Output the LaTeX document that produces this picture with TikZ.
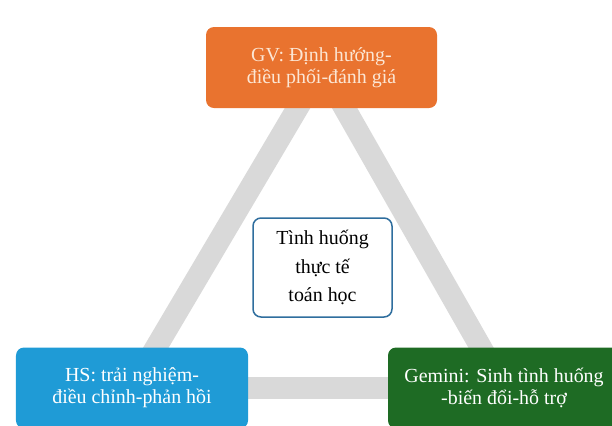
\documentclass[tikz,border=0pt]{standalone}
\usepackage{fontspec}
\setmainfont{Liberation Serif}
\usetikzlibrary{backgrounds}

\definecolor{gvorange}{HTML}{E9732F}
\definecolor{gvtext}{HTML}{FCE6D4}
\definecolor{hsblue}{HTML}{1F9BD6}
\definecolor{gemgreen}{HTML}{1E6B24}
\definecolor{bandgray}{HTML}{D9D9D9}
\definecolor{caseline}{HTML}{2F6E9E}

\tikzset{
  rolebox/.style={rounded corners=8bp, minimum height=81bp, inner sep=0pt,
    align=center, font=\fontsize{20}{22}\selectfont},
  band/.style={bandgray, line width=22bp},
}

\begin{document}
\begin{tikzpicture}[x=1bp,y=-1bp]
\useasboundingbox (0,0) rectangle (612,425);
% the three roles
\node[rolebox,minimum width=231bp,fill=gvorange,text=gvtext] (gv) at (321.5,67.5) {GV: Định hướng-\\điều phối-đánh giá};
\node[rolebox,minimum width=232bp,fill=hsblue,text=white] (hs) at (132,388) {HS: trải nghiệm-\\điều chỉnh-phản hồi};
\node[rolebox,minimum width=232bp,fill=gemgreen,text=white] (gemini) at (504,388) {Gemini: Sinh tình huống\\-biến đổi-hỗ trợ};
% centre
\node[draw=caseline,line width=1.5bp,rounded corners=8bp,fill=white,minimum width=139bp,minimum height=99bp,
  align=center,font=\fontsize{20}{29}\selectfont] (case) at (322.5,267.5) {Tình huống\\thực tế\\toán học};
% gray triangle behind
\begin{scope}[on background layer]
\draw[band] (gv.center) -- (hs.center);
\draw[band] (gv.center) -- (gemini.center);
\draw[band] (hs.center) -- (gemini.center);
\end{scope}
\end{tikzpicture}
\end{document}
